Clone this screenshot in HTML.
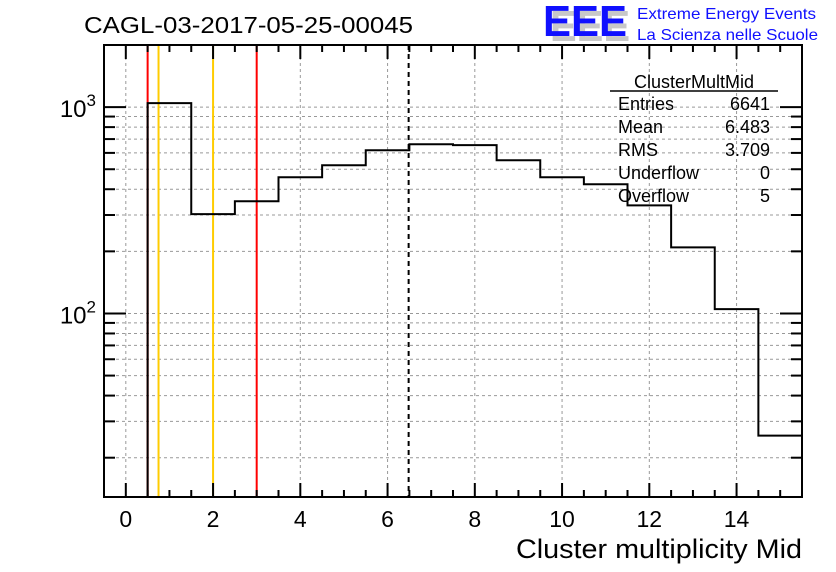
<!DOCTYPE html>
<html><head><meta charset="utf-8"><style>body{margin:0;background:#fff}svg{display:block;font-family:"Liberation Sans",sans-serif}</style></head>
<body>
<svg id="c" width="836" height="572" viewBox="0 0 836 572" xmlns="http://www.w3.org/2000/svg">
<text x="84" y="33" font-size="23" textLength="329" lengthAdjust="spacingAndGlyphs">CAGL-03-2017-05-25-00045</text>
<g>
<text x="550" y="41" font-size="44" font-weight="bold" fill="#c8c8c8" textLength="80" lengthAdjust="spacingAndGlyphs">EEE</text>
<text x="543" y="36" font-size="44" font-weight="bold" fill="#1010ff" textLength="84" lengthAdjust="spacingAndGlyphs">EEE</text>
<text x="637" y="19" font-size="16" fill="#1010ff" textLength="179" lengthAdjust="spacingAndGlyphs">Extreme Energy Events</text>
<text x="637" y="40" font-size="16" fill="#1010ff" textLength="181" lengthAdjust="spacingAndGlyphs">La Scienza nelle Scuole</text>
</g>
<g id="grid"></g><g id="lines"></g><g id="hist"></g><g id="axes"></g>
<g font-size="18">
<text x="694" y="88" text-anchor="middle">ClusterMultMid</text>
<line x1="610" y1="91" x2="778" y2="91" stroke="#000" stroke-width="1.5"/>
<text x="618" y="110">Entries</text><text x="770" y="110" text-anchor="end">6641</text>
<text x="618" y="133">Mean</text><text x="770" y="133" text-anchor="end">6.483</text>
<text x="618" y="156">RMS</text><text x="770" y="156" text-anchor="end">3.709</text>
<text x="618" y="179">Underflow</text><text x="770" y="179" text-anchor="end">0</text>
<text x="618" y="202">Overflow</text><text x="770" y="202" text-anchor="end">5</text>
</g>
<text x="802" y="558" font-size="27" text-anchor="end" textLength="286" lengthAdjust="spacingAndGlyphs">Cluster multiplicity Mid</text>
</svg>
<script>
const binEdgesLow=[-0.5,0.5,1.5,2.5,3.5,4.5,5.5,6.5,7.5,8.5,9.5,10.5,11.5,12.5,13.5,14.5];
const counts=[0,1045,303,350,457,523,618,661,654,553,457,423,334,209,105,25.6];
const xTicks=[0,2,4,6,8,10,12,14];
const yDecades=[100,1000];
const cutLines=[{x:0.5,c:'#ff0000',d:''},{x:3.0,c:'#ff0000',d:''},{x:0.75,c:'#ffcc00',d:''},{x:2.0,c:'#ffcc00',d:''},{x:6.483,c:'#000',d:'5,4'}];
const L=104,R=802,T=45,B=497,xmin=-0.5,xmax=15.5,ymin=12.9,ymax=2000;
const X=v=>L+(v-xmin)/(xmax-xmin)*(R-L);
const Y=v=>B-(Math.log10(v)-Math.log10(ymin))/(Math.log10(ymax)-Math.log10(ymin))*(B-T);
const NS='http://www.w3.org/2000/svg';
function mk(p,t,a){const e=document.createElementNS(NS,t);for(const k in a)e.setAttribute(k,a[k]);document.getElementById(p).appendChild(e);return e;}
for(const t of xTicks){const g=mk('grid','line',{x1:X(t),x2:X(t),y1:T,y2:B,stroke:'#999','stroke-dasharray':'3,3'});

}
const yMinor=[];for(let d=10;d<=1000;d*=10)for(let m=1;m<10;m++){const v=d*m;if(v>=ymin&&v<=ymax)yMinor.push(v);}
for(const v of yMinor){const g=mk('grid','line',{x1:L,x2:R,y1:Y(v),y2:Y(v),stroke:'#999','stroke-dasharray':'3,3'});

}
for(const c of cutLines){const l=mk('lines','line',{x1:X(c.x),x2:X(c.x),y1:T,y2:B,stroke:c.c,'stroke-width':2,'stroke-dasharray':c.d});

}
let d='';let prev=B;
for(let i=0;i<counts.length;i++){const x0=X(binEdgesLow[i]),x1=X(binEdgesLow[i]+1);const y=counts[i]>0?Math.max(T,Y(counts[i])):B;
d+=(i==0?`M${x0},${y}`:`L${x0},${prev}L${x0},${y}`)+`L${x1},${y}`;prev=y;}
const h=mk('hist','path',{d:d,fill:'none',stroke:'#000','stroke-width':2});


const fr=mk('axes','rect',{x:L,y:T,width:R-L,height:B-T,fill:'none',stroke:'#000','stroke-width':2});


for(let v=-0.5;v<=15.5;v+=0.5){const maj=Math.abs(v%2)<1e-9;const len=maj?14:7;
mk('axes','line',{x1:X(v),x2:X(v),y1:B,y2:B-len,stroke:'#000','stroke-width':2});
mk('axes','line',{x1:X(v),x2:X(v),y1:T,y2:T+len,stroke:'#000','stroke-width':2});}
for(const t of xTicks){const e=mk('axes','text',{x:X(t),y:B+30,'font-size':23,'text-anchor':'middle'});e.textContent=t;

}
for(const v of yMinor){const maj=yDecades.includes(v);const len=maj?22:11;
mk('axes','line',{x1:L,x2:L+len,y1:Y(v),y2:Y(v),stroke:'#000','stroke-width':2});
mk('axes','line',{x1:R,x2:R-len,y1:Y(v),y2:Y(v),stroke:'#000','stroke-width':2});}
for(const v of yDecades){const e=mk('axes','text',{x:L-8,y:Y(v)+10,'font-size':24,'text-anchor':'end'});
e.innerHTML='10<tspan dy="-11" font-size="17">'+Math.round(Math.log10(v))+'</tspan>';

}
</script>
</body></html>
